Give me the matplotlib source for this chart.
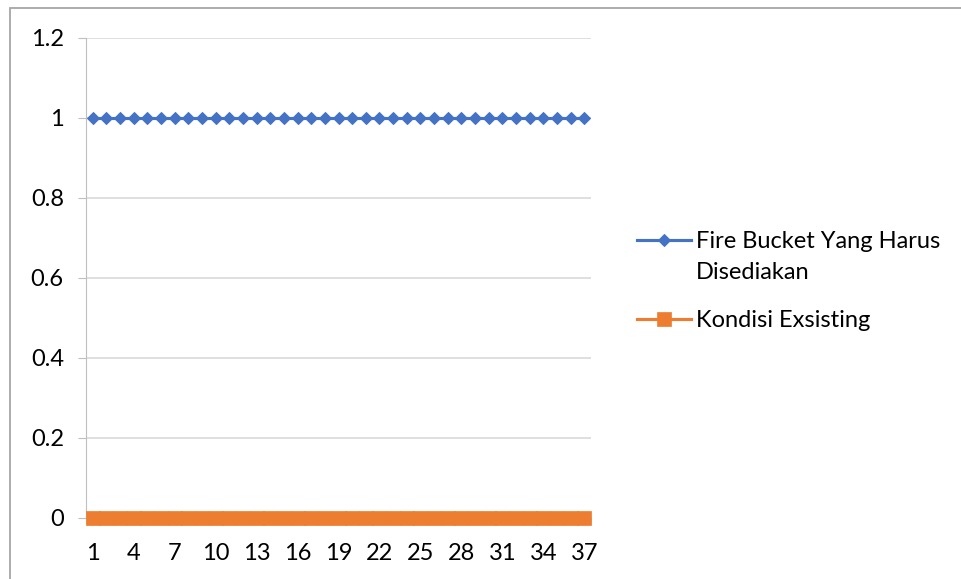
import matplotlib.pyplot as plt
from matplotlib.patches import Rectangle

# data
points = list(range(1, 38))
fire_bucket = [1] * 37
kondisi = [0] * 37
tick_labels = [str(i) for i in range(1, 38, 3)]
series_names = ['Fire Bucket Yang Harus', 'Kondisi Exsisting']

plt.rcParams['font.family'] = ['Lato', 'DejaVu Sans']
FS = 17

fig = plt.figure(figsize=(9.62, 5.79), dpi=100)
ax = fig.add_axes([86 / 962, 61 / 579, 505 / 962, 480 / 579])

# chart area border
fig.patches.append(Rectangle((10 / 962, -0.1), 1.2, (579 - 8) / 579 + 0.1,
                             transform=fig.transFigure, fill=False,
                             edgecolor='#a6a6a6', linewidth=1.3))

ax.plot(points, fire_bucket, color='#4472C4', linewidth=2.25, marker='D',
        markersize=6.5, markeredgewidth=0.75, label=series_names[0],
        clip_on=False, zorder=3)
ax.plot(points, kondisi, color='#ED7D31', linewidth=2.25, marker='s',
        markersize=10.5, markeredgewidth=0.5, label=series_names[1],
        clip_on=False, zorder=3)

ax.set_xlim(0.5, 37.5)
ax.set_ylim(0, 1.2)
ax.set_yticks([0, 0.2, 0.4, 0.6, 0.8, 1.0, 1.2])
ax.set_yticklabels(['0', '0.2', '0.4', '0.6', '0.8', '1', '1.2'])
ax.set_xticks(range(1, 38, 3))
ax.set_xticklabels(tick_labels)
ax.set_xticks([i + 0.5 for i in range(0, 38)], minor=True)

ax.grid(axis='y', color='#d9d9d9', linewidth=1.2)
ax.set_axisbelow(True)
for s in ['top', 'right']:
    ax.spines[s].set_visible(False)
ax.spines['left'].set_color('#bfbfbf')
ax.spines['bottom'].set_color('#bfbfbf')
ax.tick_params(axis='y', length=6, color='#bfbfbf', labelsize=FS, pad=10)
ax.tick_params(axis='x', which='major', length=0, labelsize=FS, pad=18)
ax.tick_params(axis='x', which='minor', length=4, color='#d9d9d9')

leg = ax.legend(loc='center left', bbox_to_anchor=(637 / 962, (579 - 281) / 579),
                bbox_transform=fig.transFigure, frameon=False, fontsize=FS,
                handlelength=2.3, handletextpad=0.2, labelspacing=2.45,
                borderpad=0, borderaxespad=0)

# wrapped second line of the first legend label
fig.canvas.draw()
bb = leg.get_texts()[0].get_window_extent()
fig.text(bb.x0 / 962, ((bb.y0 + bb.y1) / 2 - 31) / 579, 'Disediakan',
         fontsize=FS, va='center', ha='left')

plt.savefig('out.png', dpi=100)
